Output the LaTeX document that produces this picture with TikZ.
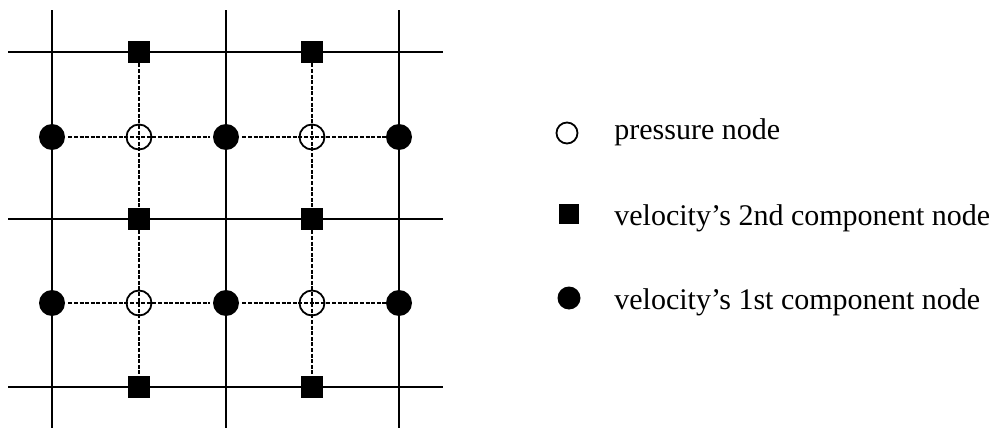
\documentclass[tikz,border=0pt]{standalone}
\usepackage{fontspec}
\setmainfont{Liberation Serif}
\usetikzlibrary{positioning}
\tikzset{
  grid line/.style={line width=1pt},
  stagger line/.style={line width=0.7pt, dash pattern=on 2pt off 0.8pt},
  unode/.style={circle, fill=black, draw=none, minimum size=13pt, inner sep=0pt},
  vnode/.style={rectangle, fill=black, draw=none, minimum size=11pt, inner sep=0pt},
  pnode/.style={circle, draw=black, line width=0.9pt, minimum size=12.5pt, inner sep=0pt},
  legend text/.style={anchor=base west, inner sep=0pt, font=\fontsize{15}{18}\selectfont},
}
\begin{document}
\begin{tikzpicture}[x=0.5pt, y=-0.5pt]
  \useasboundingbox (0,0) rectangle (998,428);
  % solid grid
  \foreach \x [count=\i] in {52,226,399} {
    \coordinate (top\i) at (\x,10);
    \coordinate (bot\i) at (\x,428);
    \draw[grid line] (top\i) -- (bot\i);
  }
  \foreach \y [count=\j] in {52,219,387} {
    \coordinate (lft\j) at (8,\y);
    \coordinate (rgt\j) at (443,\y);
    \draw[grid line] (lft\j) -- (rgt\j);
  }
  % velocity and pressure nodes
  \foreach \x [count=\i] in {52,226,399}
    \foreach \y [count=\j] in {137,303}
      \node[unode] (u\i\j) at (\x,\y) {};
  \foreach \x [count=\i] in {139,312} {
    \foreach \y [count=\j] in {52,219,387}
      \node[vnode] (v\i\j) at (\x,\y) {};
    \foreach \y [count=\j] in {137,303}
      \node[pnode] (p\i\j) at (\x,\y) {};
  }
  % staggered cells
  \foreach \j in {1,2} {
    \draw[stagger line, shorten <=1.5pt, shorten >=1.5pt] (u1\j) -- (u2\j);
    \draw[stagger line, shorten <=1.5pt] (u2\j) -- (u3\j);
  }
  \foreach \i in {1,2}
    \draw[stagger line] (v\i1) -- (v\i2) -- (v\i3);

  % legend
  \node[pnode, minimum size=10.5pt, line width=0.9pt] (lp) at (567,133) {};
  \node[vnode, minimum size=10pt] (lv) at (569,214) {};
  \node[unode, minimum size=11.5pt] (lu) at (569,298) {};
  \node[legend text] (tp) at (614,140) {pressure node};
  \node[legend text] (tv) at (614,225) {velocity's 2nd component node};
  \node[legend text] (tu) at (614,309) {velocity's 1st component node};
\end{tikzpicture}
\end{document}
